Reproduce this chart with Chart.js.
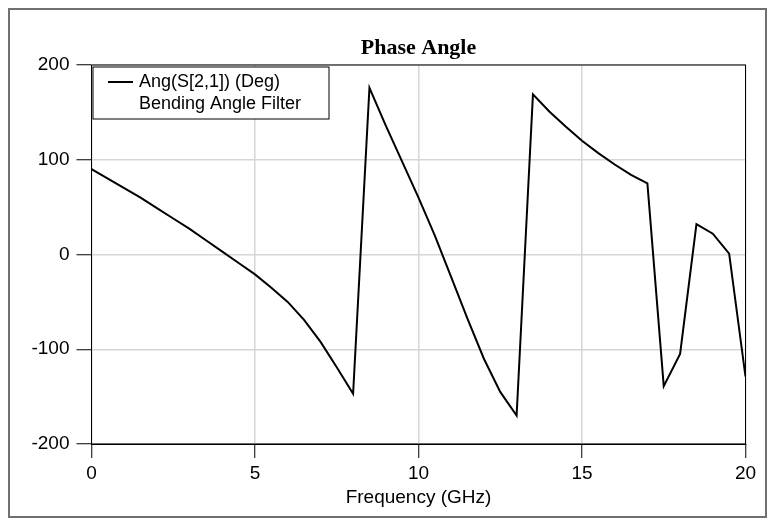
<!DOCTYPE html>
<html>
<head>
<meta charset="utf-8">
<script src="https://cdn.jsdelivr.net/npm/chart.js@4.4.1/dist/chart.umd.min.js"></script>
<style>
html, body { margin: 0; padding: 0; background: #fff; }
</style>
</head>
<body>
<canvas id="chart" width="774" height="525"></canvas>
<script>
// values (0.5 GHz steps)
const freq = [0, 0.5, 1, 1.5, 2, 2.5, 3, 3.5, 4, 4.5, 5, 5.5, 6, 6.5, 7, 7.5, 8,
    8.5, 9, 9.5, 10, 10.5, 11, 11.5, 12, 12.5, 13,
    13.5, 14, 14.5, 15, 15.5, 16, 16.5, 17, 17.5, 18, 18.5, 19, 19.5, 20];
const phase = [90, 80, 70, 60, 49, 38, 27, 15, 3, -9, -21, -35, -50, -69, -92, -119, -147,
    176, 136, 98, 60, 20, -24, -68, -110, -145, -170,
    169, 151, 135, 120, 107, 95, 84, 75, -139, -105, 32, 22, 1, -129];

const xTicks = [0, 5, 10, 15, 20];
const yTicks = [-200, -100, 0, 100, 200];

const chartTitle = "Phase Angle";
const seriesLabel = "Ang(S[2,1]) (Deg)";
const seriesNote = "Bending Angle Filter";
const xTitle = "Frequency (GHz)";

const sans = "'Liberation Sans', Arial, sans-serif";

const decor = {
    id: "decor",
    beforeDraw(chart) {
        const c = chart.ctx;
        c.save();
        c.fillStyle = "#fff";
        c.fillRect(0, 0, chart.width, chart.height);
        c.strokeStyle = "#707070";
        c.lineWidth = 2;
        c.strokeRect(9, 9, 757, 508);
        c.restore();
    },
    afterDraw(chart) {
        const c = chart.ctx;
        const a = chart.chartArea;
        c.save();
        // plot frame
        c.strokeStyle = "#000";
        c.lineWidth = 1;
        c.strokeRect(a.left, a.top, a.right - a.left, a.bottom - a.top);

        // title
        c.fillStyle = "#000";
        c.font = "bold 22px 'Liberation Serif', 'Times New Roman', serif";
        c.textAlign = "center";
        c.textBaseline = "alphabetic";
        c.fillText(chartTitle, (a.left + a.right) / 2, 54);

        // legend box
        const lx = a.left + 1.5, ly = a.top + 2;
        c.fillStyle = "#fff";
        c.fillRect(lx, ly, 236, 52);
        c.strokeStyle = "#000";
        c.lineWidth = 1;
        c.strokeRect(lx, ly, 236, 52);
        const ds = chart.data.datasets[0];
        c.strokeStyle = ds.borderColor;
        c.lineWidth = 2;
        c.beginPath();
        c.moveTo(lx + 15, ly + 15);
        c.lineTo(lx + 40, ly + 15);
        c.stroke();
        c.fillStyle = "#000";
        c.font = "18px " + sans;
        c.textAlign = "left";
        c.textBaseline = "middle";
        c.fillText(ds.label, lx + 46, ly + 15);
        c.fillText(seriesNote, lx + 46, ly + 37);
        c.restore();
    }
};

new Chart(document.getElementById("chart"), {
    type: "line",
    data: {
        datasets: [{
            label: seriesLabel,
            data: freq.map((f, i) => ({ x: f, y: phase[i] })),
            borderColor: "#000",
            borderWidth: 2,
            pointRadius: 0,
            tension: 0,
            fill: false
        }]
    },
    options: {
        responsive: false,
        animation: false,
        layout: { padding: { top: 65, right: 28.5, left: 0, bottom: 0 } },
        plugins: {
            legend: { display: false },
            title: { display: false },
            tooltip: { enabled: false }
        },
        scales: {
            x: {
                type: "linear",
                min: 0,
                max: 20,
                afterBuildTicks: s => { s.ticks = xTicks.map(v => ({ value: v })); },
                afterFit: s => { s.height = 81; },
                ticks: { color: "#000", font: { size: 19, family: sans }, padding: 4, maxRotation: 0 },
                grid: { color: "#d6d6d6", lineWidth: 1.5, tickColor: "#000", tickLength: 14, tickWidth: 1 },
                border: { color: "#000", width: 1 },
                title: {
                    display: true,
                    text: xTitle,
                    color: "#000",
                    font: { size: 19, family: sans },
                    padding: { top: 0, bottom: 16 }
                }
            },
            y: {
                min: -200,
                max: 200,
                afterBuildTicks: s => { s.ticks = yTicks.map(v => ({ value: v })); },
                afterFit: s => { s.width = 91.5; },
                ticks: { color: "#000", font: { size: 19, family: sans }, padding: 7 },
                grid: { color: "#d6d6d6", lineWidth: 1.5, tickColor: "#000", tickLength: 15, tickWidth: 1 },
                border: { color: "#000", width: 1 }
            }
        }
    },
    plugins: [decor]
});
</script>
</body>
</html>
